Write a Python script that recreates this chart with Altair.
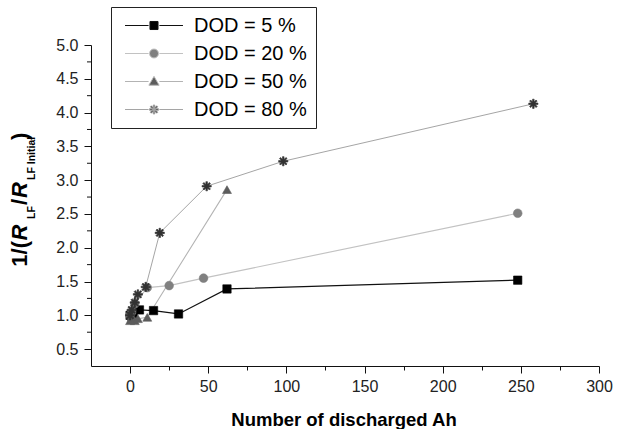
import altair as alt
import pandas as pd

# ---- data ----
series = ["DOD = 5 %", "DOD = 20 %", "DOD = 50 %", "DOD = 80 %"]
x5 = [0, 2, 6, 15, 31, 62, 248]
y5 = [1.00, 1.02, 1.08, 1.07, 1.02, 1.39, 1.52]
x20 = [0, 1, 3, 11, 25, 47, 248]
y20 = [1.00, 1.05, 1.17, 1.41, 1.44, 1.55, 2.51]
x50 = [0, 1, 3, 5, 11, 62]
y50 = [0.92, 0.97, 0.92, 0.95, 0.97, 2.86]
x80 = [0, 1, 3, 5, 10, 19, 49, 98, 258]
y80 = [1.00, 1.08, 1.19, 1.31, 1.42, 2.22, 2.91, 3.28, 4.13]

x_ticks = list(range(0, 301, 25))
y_major = [0.5 * i for i in range(1, 11)]
y_minor = [0.75 + 0.5 * i for i in range(9)]

rows = []
for name, xs, ys in zip(series, [x5, x20, x50, x80], [y5, y20, y50, y80]):
    for a, b in zip(xs, ys):
        rows.append({"series": name, "x": a, "y": b})
df = pd.DataFrame(rows)
minor_df = pd.DataFrame({"y": y_minor})


# ---- styling ----
def asterisk_path(r, w):
    """Filled 8-armed asterisk (four bars) of radius r and half bar width w."""
    d = 0.7071 * r
    e = 0.7071 * w
    f = lambda v: f"{v:.3f}"
    p = (
        f"M{f(-r)},{f(-w)}L{f(r)},{f(-w)}L{f(r)},{f(w)}L{f(-r)},{f(w)}Z"
        f"M{f(-w)},{f(-r)}L{f(w)},{f(-r)}L{f(w)},{f(r)}L{f(-w)},{f(r)}Z"
        f"M{f(d + e)},{f(d - e)}L{f(d - e)},{f(d + e)}L{f(-d - e)},{f(-d + e)}L{f(-d + e)},{f(-d - e)}Z"
        f"M{f(-d + e)},{f(d + e)}L{f(-d - e)},{f(d - e)}L{f(d - e)},{f(-d - e)}L{f(d + e)},{f(-d + e)}Z"
    )
    return p


FONT = "Liberation Sans"
line_colors = ["#111111", "#c2c2c2", "#b3b3b3", "#a5a5a5"]
line_widths = [1.2, 1.0, 1.0, 1.0]
marker_colors = ["#000000", "#808080", "#5c5c5c", "#333333"]
marker_shapes = ["square", "circle", "triangle-up", asterisk_path(1.0, 0.17)]
marker_sizes = [70, 85, 90, 85]

stub = "M-4.83,0L-0.9,0M0.9,0L4.83,0"
legend_shapes = [
    stub + "M-0.67,-0.67L0.67,-0.67L0.67,0.67L-0.67,0.67Z",
    stub + "M0.75,0A0.75,0.75 0 1,1 -0.75,0A0.75,0.75 0 1,1 0.75,0Z",
    stub + "M0,-0.85L0.85,0.62L-0.85,0.62Z",
    stub + asterisk_path(0.75, 0.12),
]

xenc = alt.X(
    "x:Q",
    scale=alt.Scale(domain=[-25, 300], nice=False, zero=False),
    axis=alt.Axis(
        values=x_ticks,
        labelExpr="datum.value % 50 === 0 ? datum.label : ''",
        tickSize={"condition": {"test": "datum.value % 50 === 0", "value": 7}, "value": 4},
        title=None,
        grid=False,
        labelFlush=False,
        labelOverlap=False,
        labelFont=FONT,
        labelFontSize=16,
        labelColor="#222222",
        labelPadding=5,
        domainColor="#111111",
        tickColor="#111111",
    ),
)
yenc = alt.Y(
    "y:Q",
    scale=alt.Scale(domain=[0.25, 5.0], nice=False, zero=False),
    axis=alt.Axis(
        values=y_major,
        format=".1f",
        tickSize=7,
        title=None,
        grid=False,
        labelFlush=False,
        labelOverlap=False,
        labelFont=FONT,
        labelFontSize=16,
        labelColor="#222222",
        labelPadding=6,
        domainColor="#111111",
        tickColor="#111111",
    ),
)

base = alt.Chart(df)

lines = base.mark_line().encode(
    x=xenc,
    y=yenc,
    color=alt.Color("series:N", scale=alt.Scale(domain=series, range=line_colors), legend=None),
    strokeWidth=alt.StrokeWidth("series:N", scale=alt.Scale(domain=series, range=line_widths), legend=None),
)

points = base.mark_point(filled=True, opacity=1, strokeWidth=0.6).encode(
    x=xenc,
    y=yenc,
    shape=alt.Shape("series:N", scale=alt.Scale(domain=series, range=marker_shapes), legend=None),
    fill=alt.Fill("series:N", scale=alt.Scale(domain=series, range=marker_colors), legend=None),
    stroke=alt.Stroke("series:N", scale=alt.Scale(domain=series, range=marker_colors), legend=None),
    size=alt.Size("series:N", scale=alt.Scale(domain=series, range=marker_sizes), legend=None),
)

minor_ticks = alt.Chart(minor_df).mark_rule(color="#111111", strokeWidth=1).encode(
    y=yenc, x=alt.value(0), x2=alt.value(-4)
)

leg = alt.Legend(
    title=None,
    orient="none",
    legendX=20,
    legendY=-38,
    strokeColor="#222222",
    padding=8.5,
    rowPadding=8,
    labelFont=FONT,
    labelFontSize=20,
    labelColor="#000000",
    symbolSize=144,
    symbolStrokeWidth=1,
    symbolOffset=24.5,
    labelOffset=30,
)

legend_layer = base.transform_filter("false").mark_point(filled=True, strokeWidth=1, opacity=1).encode(
    x=xenc,
    y=yenc,
    shape=alt.Shape("series:N", scale=alt.Scale(domain=series, range=legend_shapes), legend=leg, sort=series),
    fill=alt.Fill("series:N", scale=alt.Scale(domain=series, range=marker_colors), legend=leg, sort=series),
    stroke=alt.Stroke("series:N", scale=alt.Scale(domain=series, range=line_colors), legend=leg, sort=series),
)

# ---- titles (as text) ----
one = alt.Data(values=[{}])
y_title_parts = [
    ("1/(", "normal", 22, -64, 221.7),
    ("R", "italic", 22, -64, 195.5),
    ("LF", "normal", 10.5, -56, 174),
    ("/", "normal", 22, -64, 160),
    ("R", "italic", 22, -64, 153),
    ("LF Initial", "normal", 10.5, -56, 135),
    (")", "normal", 22, -64, 95),
]
title_layers = []
for txt, style, fs, px, py in y_title_parts:
    title_layers.append(
        alt.Chart(one).mark_text(
            text=txt, angle=270, align="left", baseline="alphabetic",
            font=FONT, fontSize=fs, fontWeight="bold", fontStyle=style, color="#000000",
        ).encode(x=alt.value(px), y=alt.value(py))
    )
title_layers.append(
    alt.Chart(one).mark_text(
        text="Number of discharged Ah", align="center", baseline="alphabetic",
        font=FONT, fontSize=18.5, fontWeight="bold", color="#000000",
    ).encode(x=alt.value(253), y=alt.value(381))
)

chart = alt.layer(lines, points, minor_ticks, legend_layer, *title_layers).resolve_scale(
    shape="independent", fill="independent", stroke="independent", color="independent",
    size="independent", strokeWidth="independent",
).properties(
    width=508,
    height=321,
    autosize=alt.AutoSizeParams(type="none"),
    padding={"left": 91, "top": 45, "right": 43, "bottom": 63},
    background="white",
).configure_view(stroke=None)

chart.save("out.html", embed_options={"renderer": "svg", "actions": False})
